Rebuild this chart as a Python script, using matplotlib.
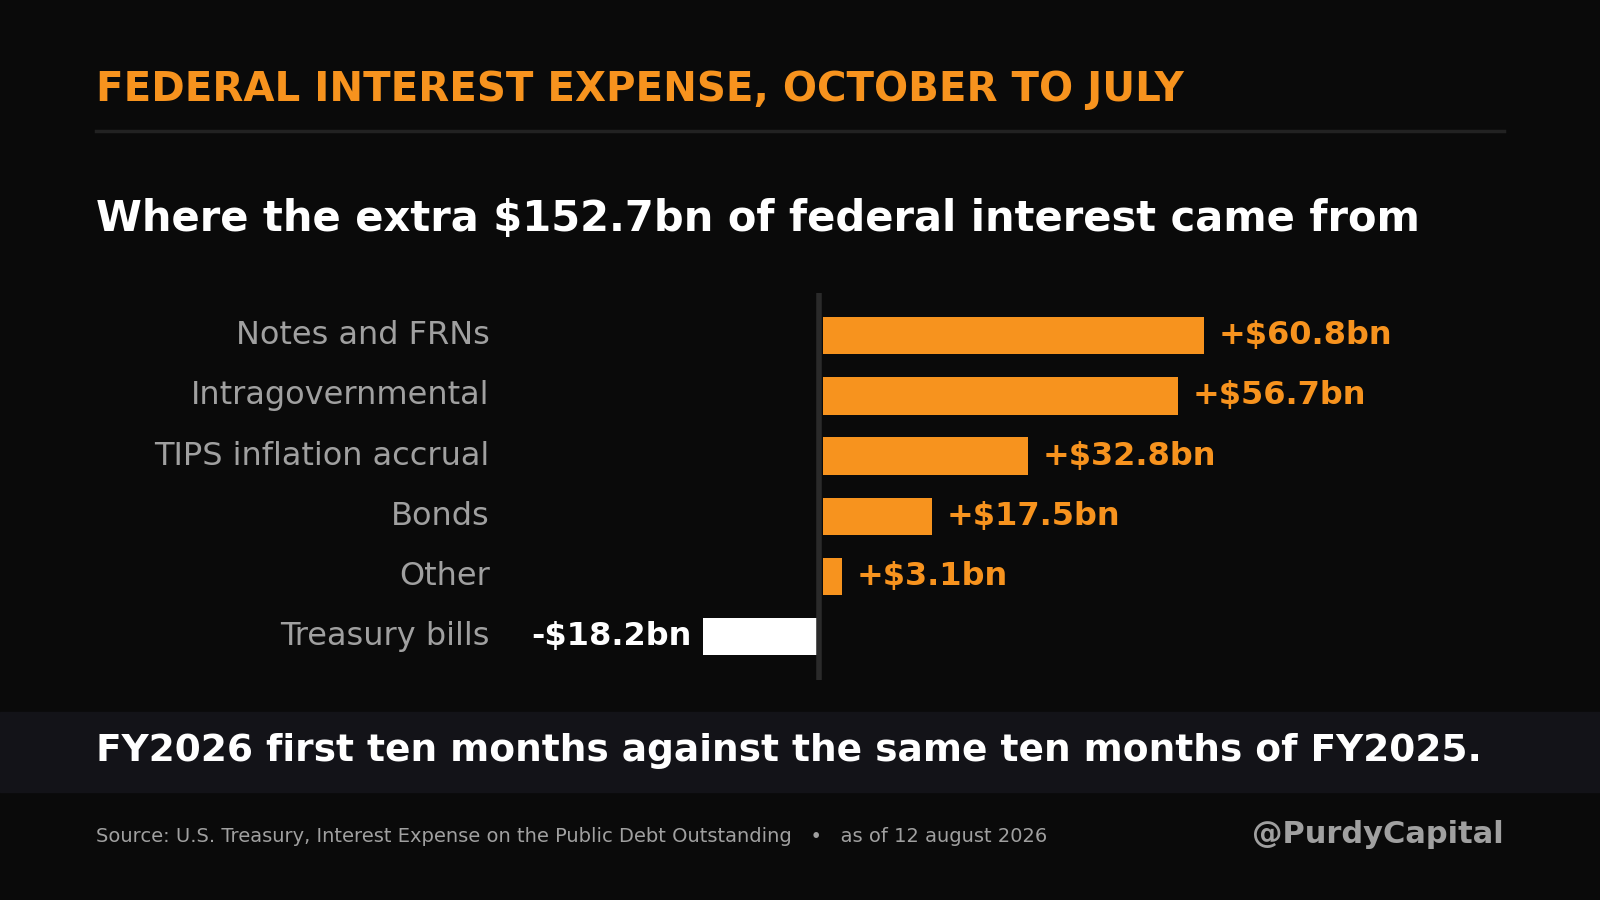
import matplotlib.pyplot as plt
from matplotlib.patches import Rectangle

categories = ["Notes and FRNs", "Intragovernmental", "TIPS inflation accrual",
              "Bonds", "Other", "Treasury bills"]
values = [60.8, 56.7, 32.8, 17.5, 3.1, -18.2]

bg = "#0a0a0a"
orange = "#f7931e"
gray = "#a0a0a0"

fig = plt.figure(figsize=(16, 9), dpi=100)
fig.patch.set_facecolor(bg)

W, H = 1568.0, 882.0
def fx(px):
    return px / W
def fy(py):
    return 1 - py / H

fig.text(fx(94), fy(88), "FEDERAL INTEREST EXPENSE, OCTOBER TO JULY", color=orange,
         fontsize=29, fontweight="bold", va="center", ha="left")
fig.add_artist(plt.Line2D([fx(94), fx(1474)], [fy(128), fy(128)], color="#222222", lw=2.5))
fig.text(fx(94), fy(215), "Where the extra $152.7bn of federal interest came from", color="white",
         fontsize=30, fontweight="bold", va="center", ha="left")

# axes spanning 94..1474 px horizontally, 287..666 vertically
ax = fig.add_axes([fx(94), fy(666), fx(1474) - fx(94), fy(287) - fy(666)])
ax.set_facecolor(bg)
ppb = 6.15
zero = 803
ax.set_xlim((94 - zero) / ppb, (1474 - zero) / ppb)
a = (379 / 59 - 6) / 2
ax.set_ylim(5.5 + a, -0.5 - a)
ax.axis("off")

ys = list(range(len(categories)))
colors = [orange if v > 0 else "white" for v in values]
ax.barh(ys, values, height=0.62, color=colors, left=[0.5 if v > 0 else -0.3 for v in values])
ax.axvline(0, color="#2a2a2a", lw=4)

for y, c, v in zip(ys, categories, values):
    ax.text((480 - zero) / ppb, y, c, color=gray, fontsize=23, ha="right", va="center")
    if v > 0:
        ax.text(v + 2.8, y, f"+${v:.1f}bn", color=orange, fontsize=23, fontweight="bold",
                ha="left", va="center")
    else:
        ax.text(v - 2.2, y, f"-${abs(v):.1f}bn", color="white", fontsize=23, fontweight="bold",
                ha="right", va="center")

fig.add_artist(Rectangle((0, fy(776)), 1, fy(698) - fy(776), transform=fig.transFigure,
                         color="#131318", zorder=0))
fig.text(fx(94), fy(736), "FY2026 first ten months against the same ten months of FY2025.",
         color="white", fontsize=27, fontweight="bold", va="center", ha="left")
fig.text(fx(94), fy(820),
         "Source: U.S. Treasury, Interest Expense on the Public Debt Outstanding   \u2022   as of 12 august 2026",
         color=gray, fontsize=14, va="center", ha="left")
fig.text(fx(1474), fy(818), "@PurdyCapital", color=gray, fontsize=22, fontweight="bold",
         va="center", ha="right")

fig.savefig("out.png", dpi=100, facecolor=bg)
